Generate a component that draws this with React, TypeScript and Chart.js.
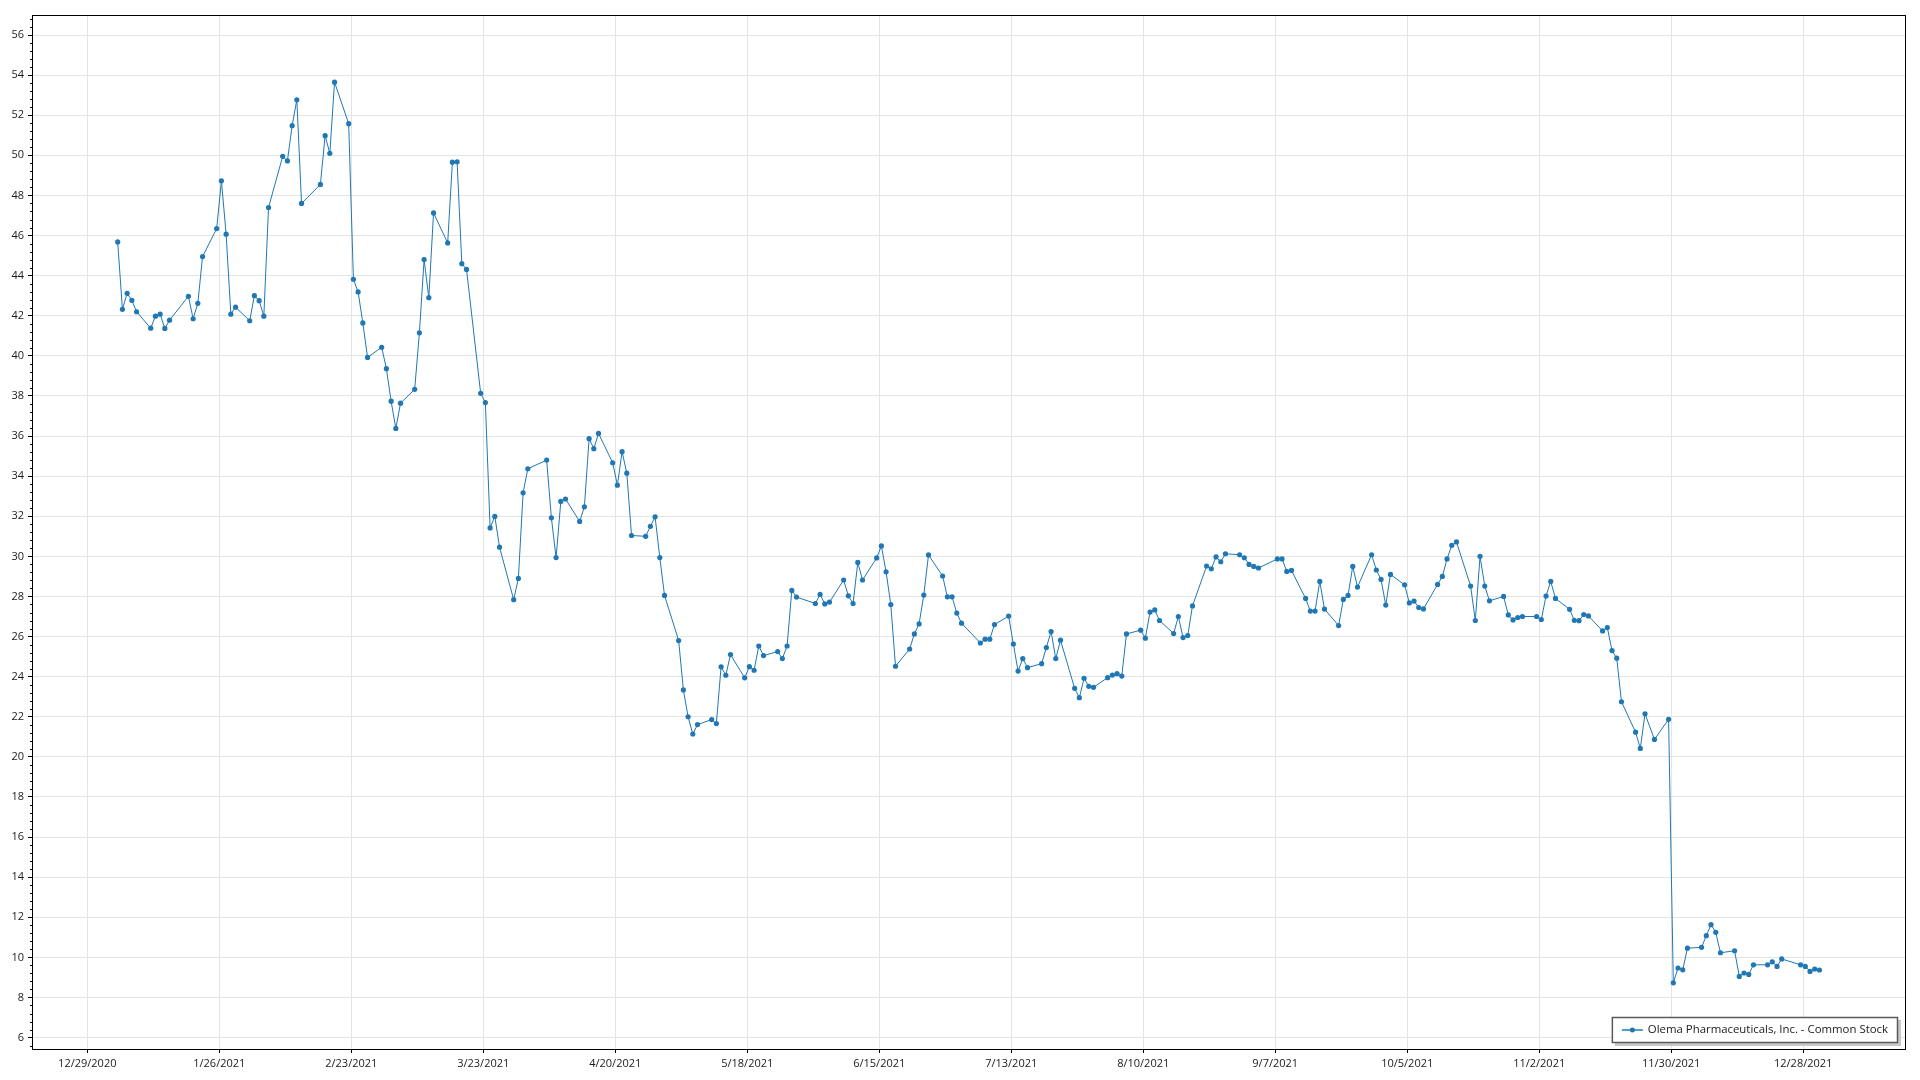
import React, { useEffect, useRef } from "react";
import { Chart, registerables } from "chart.js";

Chart.register(...registerables);

const SERIES_LABEL = "Olema Pharmaceuticals, Inc. - Common Stock";

const dates: string[] = [
  "2021-01-04","2021-01-05","2021-01-06","2021-01-07","2021-01-08",
  "2021-01-11","2021-01-12","2021-01-13","2021-01-14","2021-01-15",
  "2021-01-19","2021-01-20","2021-01-21","2021-01-22",
  "2021-01-25","2021-01-26","2021-01-27","2021-01-28","2021-01-29",
  "2021-02-01","2021-02-02","2021-02-03","2021-02-04","2021-02-05",
  "2021-02-08","2021-02-09","2021-02-10","2021-02-11","2021-02-12",
  "2021-02-16","2021-02-17","2021-02-18","2021-02-19",
  "2021-02-22","2021-02-23","2021-02-24","2021-02-25","2021-02-26",
  "2021-03-01","2021-03-02","2021-03-03","2021-03-04","2021-03-05",
  "2021-03-08","2021-03-09","2021-03-10","2021-03-11","2021-03-12",
  "2021-03-15","2021-03-16","2021-03-17","2021-03-18","2021-03-19",
  "2021-03-22","2021-03-23","2021-03-24","2021-03-25","2021-03-26",
  "2021-03-29","2021-03-30","2021-03-31","2021-04-01",
  "2021-04-05","2021-04-06","2021-04-07","2021-04-08","2021-04-09",
  "2021-04-12","2021-04-13","2021-04-14","2021-04-15","2021-04-16",
  "2021-04-19","2021-04-20","2021-04-21","2021-04-22","2021-04-23",
  "2021-04-26","2021-04-27","2021-04-28","2021-04-29","2021-04-30",
  "2021-05-03","2021-05-04","2021-05-05","2021-05-06","2021-05-07",
  "2021-05-10","2021-05-11","2021-05-12","2021-05-13","2021-05-14",
  "2021-05-17","2021-05-18","2021-05-19","2021-05-20","2021-05-21",
  "2021-05-24","2021-05-25","2021-05-26","2021-05-27","2021-05-28",
  "2021-06-01","2021-06-02","2021-06-03","2021-06-04",
  "2021-06-07","2021-06-08","2021-06-09","2021-06-10","2021-06-11",
  "2021-06-14","2021-06-15","2021-06-16","2021-06-17","2021-06-18",
  "2021-06-21","2021-06-22","2021-06-23","2021-06-24","2021-06-25",
  "2021-06-28","2021-06-29","2021-06-30","2021-07-01","2021-07-02",
  "2021-07-06","2021-07-07","2021-07-08","2021-07-09",
  "2021-07-12","2021-07-13","2021-07-14","2021-07-15","2021-07-16",
  "2021-07-19","2021-07-20","2021-07-21","2021-07-22","2021-07-23",
  "2021-07-26","2021-07-27","2021-07-28","2021-07-29","2021-07-30",
  "2021-08-02","2021-08-03","2021-08-04","2021-08-05","2021-08-06",
  "2021-08-09","2021-08-10","2021-08-11","2021-08-12","2021-08-13",
  "2021-08-16","2021-08-17","2021-08-18","2021-08-19","2021-08-20",
  "2021-08-23","2021-08-24","2021-08-25","2021-08-26","2021-08-27",
  "2021-08-30","2021-08-31","2021-09-01","2021-09-02","2021-09-03",
  "2021-09-07","2021-09-08","2021-09-09","2021-09-10",
  "2021-09-13","2021-09-14","2021-09-15","2021-09-16","2021-09-17",
  "2021-09-20","2021-09-21","2021-09-22","2021-09-23","2021-09-24",
  "2021-09-27","2021-09-28","2021-09-29","2021-09-30","2021-10-01",
  "2021-10-04","2021-10-05","2021-10-06","2021-10-07","2021-10-08",
  "2021-10-11","2021-10-12","2021-10-13","2021-10-14","2021-10-15",
  "2021-10-18","2021-10-19","2021-10-20","2021-10-21","2021-10-22",
  "2021-10-25","2021-10-26","2021-10-27","2021-10-28","2021-10-29",
  "2021-11-01","2021-11-02","2021-11-03","2021-11-04","2021-11-05",
  "2021-11-08","2021-11-09","2021-11-10","2021-11-11","2021-11-12",
  "2021-11-15","2021-11-16","2021-11-17","2021-11-18","2021-11-19",
  "2021-11-22","2021-11-23","2021-11-24","2021-11-26",
  "2021-11-29","2021-11-30","2021-12-01","2021-12-02","2021-12-03",
  "2021-12-06","2021-12-07","2021-12-08","2021-12-09","2021-12-10",
  "2021-12-13","2021-12-14","2021-12-15","2021-12-16","2021-12-17",
  "2021-12-20","2021-12-21","2021-12-22","2021-12-23",
  "2021-12-27","2021-12-28","2021-12-29","2021-12-30","2021-12-31",
];

const prices: number[] = [
  45.68, 42.32, 43.12, 42.77, 42.2,
  41.38, 41.98, 42.08, 41.37, 41.78,
  42.97, 41.85, 42.62, 44.95,
  46.35, 48.73, 46.07, 42.08, 42.43,
  41.75, 43.0, 42.75, 41.98, 47.4,
  49.95, 49.72, 51.48, 52.77, 47.6,
  48.55, 50.98, 50.1, 53.65,
  51.58, 43.82, 43.19, 41.64, 39.92,
  40.43, 39.36, 37.74, 36.38, 37.64,
  38.33, 41.15, 44.8, 42.9, 47.13,
  45.63, 49.66, 49.68, 44.6, 44.31,
  38.13, 37.67, 31.42, 31.99, 30.46,
  27.84, 28.9, 33.17, 34.37,
  34.8, 31.92, 29.94, 32.74, 32.86,
  31.74, 32.47, 35.87, 35.37, 36.13,
  34.67, 33.55, 35.22, 34.15, 31.04,
  31.0, 31.5, 31.97, 29.94, 28.05,
  25.8, 23.34, 22.0, 21.14, 21.61,
  21.86, 21.66, 24.49, 24.07, 25.1,
  23.94, 24.5, 24.32, 25.53, 25.05,
  25.25, 24.9, 25.53, 28.3, 27.97,
  27.65, 28.1, 27.63, 27.72,
  28.82, 28.03, 27.65, 29.7, 28.82,
  29.92, 30.52, 29.23, 27.6, 24.52,
  25.38, 26.13, 26.63, 28.07, 30.07,
  29.02, 27.98, 27.98, 27.17, 26.67,
  25.68, 25.87, 25.87, 26.6,
  27.02, 25.63, 24.28, 24.9, 24.45,
  24.65, 25.45, 26.25, 24.9, 25.82,
  23.42, 22.95, 23.92, 23.52, 23.47,
  23.95, 24.08, 24.15, 24.03, 26.13,
  26.32, 25.92, 27.22, 27.33, 26.8,
  26.15, 27.0, 25.95, 26.05, 27.53,
  29.52, 29.38, 29.97, 29.73, 30.13,
  30.08, 29.93, 29.6, 29.5, 29.42,
  29.87, 29.87, 29.25, 29.3,
  27.9, 27.27, 27.27, 28.75, 27.37,
  26.55, 27.85, 28.05, 29.5, 28.47,
  30.08, 29.32, 28.85, 27.57, 29.1,
  28.58, 27.68, 27.77, 27.45, 27.38,
  28.6, 29.0, 29.87, 30.55, 30.72,
  28.52, 26.8, 30.0, 28.52, 27.78,
  28.0, 27.08, 26.83, 26.95, 27.0,
  27.0, 26.85, 28.02, 28.75, 27.9,
  27.36, 26.81, 26.79, 27.1, 27.03,
  26.28, 26.45, 25.3, 24.92, 22.75,
  21.23, 20.42, 22.15, 20.87,
  21.87, 8.73, 9.47, 9.38, 10.46,
  10.5, 11.08, 11.63, 11.25, 10.23,
  10.33, 9.05, 9.22, 9.15, 9.63,
  9.63, 9.78, 9.55, 9.92,
  9.63, 9.55, 9.3, 9.42, 9.37,
];

// x-axis tick labels (every 28 days)
const xTickDates: string[] = [
  "2020-12-29","2021-01-26","2021-02-23","2021-03-23","2021-04-20",
  "2021-05-18","2021-06-15","2021-07-13","2021-08-10","2021-09-07",
  "2021-10-05","2021-11-02","2021-11-30","2021-12-28",
];

const yTicks: number[] = [6,8,10,12,14,16,18,20,22,24,26,28,30,32,34,36,38,40,42,44,46,48,50,52,54,56];

const BASE = Date.UTC(2020, 11, 29);
const DAY = 86400000;
const POINT_TIME = 0.45; // points are stamped at this fraction of the day

function dayNum(s: string): number {
  const [y, m, d] = s.split("-").map(Number);
  return (Date.UTC(y, m - 1, d) - BASE) / DAY;
}

function fmtDate(dn: number): string {
  const dt = new Date(BASE + Math.round(dn) * DAY);
  return `${dt.getUTCMonth() + 1}/${dt.getUTCDate()}/${dt.getUTCFullYear()}`;
}

const COLOR = "#1f77b4";
const FONT = "'Open Sans', 'Noto Sans', sans-serif";

const framePlugin = {
  id: "frame",
  afterDraw(chart: any) {
    const { ctx, chartArea } = chart;
    const { left, top, right, bottom } = chartArea;
    ctx.save();
    // minor ticks on y axis
    const ys = chart.scales.y;
    ctx.strokeStyle = "#000";
    ctx.lineWidth = 1;
    ctx.beginPath();
    for (let k = 0; k < 200; k++) {
      const v = 4 + k * 0.4;
      if (v < ys.min || v > ys.max) continue;
      if (Math.abs(v / 2 - Math.round(v / 2)) < 1e-6) continue;
      const py = Math.round(ys.getPixelForValue(v)) + 0.5;
      ctx.moveTo(left - 2, py);
      ctx.lineTo(left, py);
    }
    ctx.stroke();
    // frame
    ctx.strokeStyle = "#000";
    ctx.lineWidth = 1;
    ctx.strokeRect(Math.round(left) + 0.5, Math.round(top) + 0.5, Math.round(right - left), Math.round(bottom - top));

    // legend
    const label = chart.data.datasets[0].label;
    ctx.font = `11.4px ${FONT}`;
    const tw = ctx.measureText(label).width;
    const boxR = right - 7;
    const boxB = bottom - 6;
    const boxW = tw + 46;
    const boxH = 26;
    const boxL = boxR - boxW;
    const boxT = boxB - boxH;
    ctx.fillStyle = "#c8c8c8";
    ctx.fillRect(boxL + 3, boxT + 3, boxW, boxH);
    ctx.fillStyle = "#fff";
    ctx.fillRect(boxL, boxT, boxW, boxH);
    ctx.strokeStyle = "#5a5a5a";
    ctx.lineWidth = 1.5;
    ctx.strokeRect(boxL + 0.5, boxT + 0.5, boxW - 1, boxH - 1);
    const cy = boxT + boxH / 2;
    ctx.strokeStyle = COLOR;
    ctx.lineWidth = 1.5;
    ctx.beginPath();
    ctx.moveTo(boxL + 10, cy);
    ctx.lineTo(boxL + 31, cy);
    ctx.stroke();
    ctx.fillStyle = COLOR;
    ctx.beginPath();
    ctx.arc(boxL + 20.5, cy, 2.5, 0, Math.PI * 2);
    ctx.fill();
    ctx.fillStyle = "#1a1a1a";
    ctx.textBaseline = "middle";
    ctx.textAlign = "left";
    ctx.fillText(label, boxL + 36, cy);
    ctx.restore();
  },
};

export default function App() {
  const ref = useRef<HTMLCanvasElement | null>(null);

  useEffect(() => {
    document.body.style.margin = "0";
    const canvas = ref.current;
    if (!canvas) return;
    const points = dates.map((d, i) => ({ x: dayNum(d) + POINT_TIME, y: prices[i] }));
    const chart = new Chart(canvas, {
      type: "line",
      data: {
        datasets: [
          {
            label: SERIES_LABEL,
            data: points,
            borderColor: COLOR,
            backgroundColor: COLOR,
            borderWidth: 1,
            pointRadius: 2.6,
            pointBorderWidth: 0,
            pointBackgroundColor: COLOR,
            tension: 0,
            fill: false,
          },
        ],
      },
      options: {
        animation: false,
        responsive: false,
        devicePixelRatio: 1,
        layout: { padding: { left: 0, top: 15, right: 15, bottom: 0 } },
        plugins: {
          legend: { display: false },
          tooltip: { enabled: false },
          title: { display: false },
        },
        scales: {
          x: {
            type: "linear",
            min: -11.73,
            max: 385.6,
            afterBuildTicks: (scale: any) => {
              scale.ticks = xTickDates.map((d) => ({ value: dayNum(d) }));
            },
            afterFit: (scale: any) => {
              scale.height = 31;
            },
            ticks: {
              autoSkip: false,
              maxRotation: 0,
              minRotation: 0,
              padding: 4,
              color: "#1a1a1a",
              font: { family: FONT, size: 11 },
              callback: (v: any) => fmtDate(Number(v)),
            },
            grid: {
              color: "#e4e4e4",
              lineWidth: 1,
              drawTicks: true,
              tickLength: 4,
              tickColor: "#000",
            },
            border: { display: true, color: "#000", width: 1 },
          },
          y: {
            type: "linear",
            min: 5.43,
            max: 57.0,
            afterBuildTicks: (scale: any) => {
              scale.ticks = yTicks.map((v) => ({ value: v }));
            },
            afterFit: (scale: any) => {
              scale.width = 32;
            },
            ticks: {
              padding: 4,
              color: "#1a1a1a",
              font: { family: FONT, size: 11 },
              callback: (v: any) => String(v),
            },
            grid: {
              color: "#e4e4e4",
              lineWidth: 1,
              drawTicks: true,
              tickLength: 4,
              tickColor: "#000",
            },
            border: { display: true, color: "#000", width: 1 },
          },
        },
      },
      plugins: [framePlugin],
    });
    return () => chart.destroy();
  }, []);

  return (
    <div style={{ width: 1920, height: 1080, background: "#fff" }}>
      <canvas ref={ref} width={1920} height={1080} style={{ display: "block" }} />
    </div>
  );
}
